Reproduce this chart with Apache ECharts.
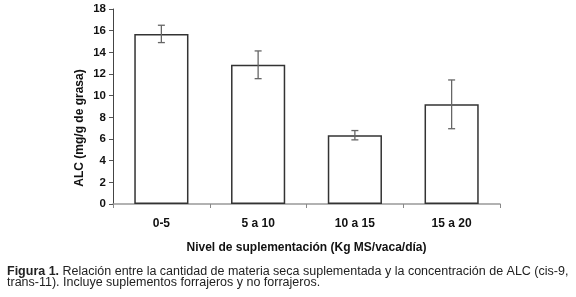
<!DOCTYPE html>
<html>
<head>
<meta charset="utf-8">
<script src="https://cdn.jsdelivr.net/npm/echarts@6/dist/echarts.min.js"></script>
<style>
  html, body { margin: 0; padding: 0; background: #fff; }
  #chart { width: 576px; height: 297px; }
</style>
</head>
<body>
<div id="chart"></div>
<script>
// datos
const categories = ['0-5', '5 a 10', '10 a 15', '15 a 20'];
const alcValues = [15.7, 12.85, 6.35, 9.2];
const alcErrors = [0.8, 1.28, 0.43, 2.25];
const yTicks = { min: 0, max: 18, interval: 2 };

const chart = echarts.init(document.getElementById('chart'), null, { renderer: 'canvas' });

const errData = alcValues.map((v, i) => [i, v - alcErrors[i], v + alcErrors[i]]);

const font = '"Liberation Sans", Arial, sans-serif';

const option = {
  animation: false,
  grid: { left: 113, right: 76, top: 9, bottom: 93 },
  xAxis: {
    type: 'category',
    data: categories,
    axisLine: { lineStyle: { color: '#999', width: 1.5 } },
    axisTick: { show: true, length: 4, lineStyle: { color: '#888' } },
    axisLabel: { color: '#111', fontFamily: font, fontWeight: 'bold', fontSize: 12, margin: 14 },
    name: 'Nivel de suplementación (Kg MS/vaca/día)',
    nameLocation: 'middle',
    nameGap: 38,
    nameTextStyle: { color: '#111', fontFamily: font, fontWeight: 'bold', fontSize: 12 }
  },
  yAxis: {
    type: 'value',
    min: yTicks.min,
    max: yTicks.max,
    interval: yTicks.interval,
    splitLine: { show: false },
    axisLine: { show: true, lineStyle: { color: '#444', width: 1 } },
    axisTick: { show: true, length: 4, lineStyle: { color: '#555' } },
    axisLabel: { color: '#111', fontFamily: font, fontWeight: 'bold', fontSize: 11.5, margin: 7 }
  },
  series: [
    {
      type: 'bar',
      data: alcValues,
      barWidth: '56%',
      itemStyle: { color: '#fff', borderColor: '#333', borderWidth: 1.5 }
    },
    {
      type: 'custom',
      data: errData,
      z: 10,
      renderItem(params, api) {
        const x = api.value(0);
        const lo = api.coord([x, api.value(1)]);
        const hi = api.coord([x, api.value(2)]);
        const w = 3.5;
        const st = { stroke: '#666', lineWidth: 1.3 };
        return {
          type: 'group',
          children: [
            { type: 'line', shape: { x1: lo[0], y1: lo[1], x2: hi[0], y2: hi[1] }, style: st },
            { type: 'line', shape: { x1: lo[0] - w, y1: lo[1], x2: lo[0] + w, y2: lo[1] }, style: st },
            { type: 'line', shape: { x1: hi[0] - w, y1: hi[1], x2: hi[0] + w, y2: hi[1] }, style: st }
          ]
        };
      }
    }
  ],
  graphic: [
    {
      type: 'text',
      x: 80,
      y: 128,
      rotation: Math.PI / 2,
      style: {
        text: 'ALC (mg/g de grasa)',
        fill: '#111',
        font: 'bold 12px ' + font,
        align: 'center',
        verticalAlign: 'middle'
      }
    },
    {
      type: 'text',
      left: 7,
      top: 265,
      style: {
        text: '{b|Figura 1.} Relación entre la cantidad de materia seca suplementada y la concentración de ALC (cis-9,\ntrans-11). Incluye suplementos forrajeros y no forrajeros.',
        fill: '#222',
        font: '12.5px ' + font,
        lineHeight: 11,
        rich: { b: { fontWeight: 'bold', fontSize: 12.5, fontFamily: font, fill: '#222', lineHeight: 11 } }
      }
    }
  ]
};

chart.setOption(option);
</script>
</body>
</html>
